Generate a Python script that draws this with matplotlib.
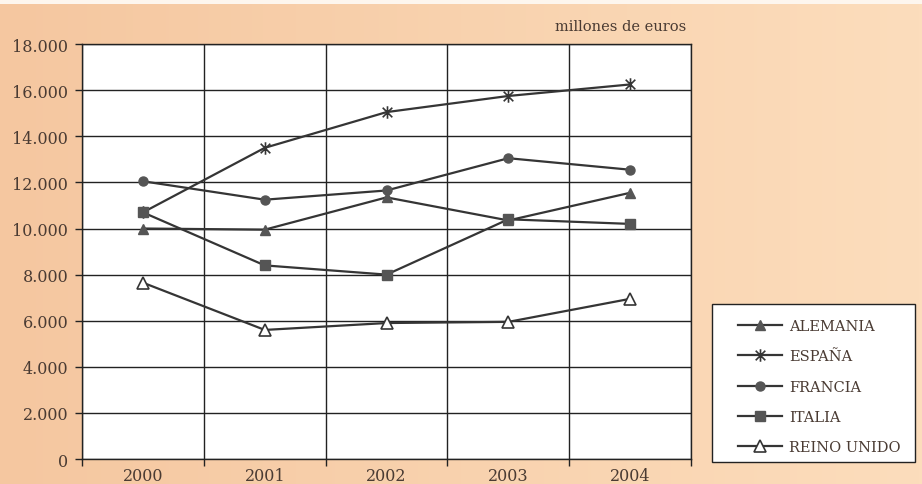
import numpy as np
import matplotlib
matplotlib.use("Agg")
import matplotlib.pyplot as plt
from matplotlib.path import Path
from matplotlib.patches import Rectangle
from matplotlib.ticker import FuncFormatter, FixedLocator

years = ["2000", "2001", "2002", "2003", "2004"]
alemania = [10000, 9950, 11350, 10350, 11550]
espana = [10700, 13500, 15050, 15750, 16250]
francia = [12050, 11250, 11650, 13050, 12550]
italia = [10700, 8400, 8000, 10400, 10200]
reino_unido = [7650, 5600, 5900, 5950, 6950]

series_names = ["ALEMANIA", "ESPAÑA", "FRANCIA", "ITALIA", "REINO UNIDO"]
yticks = np.arange(0, 18001, 2000)

# asterisk marker: X plus a vertical bar (like the old spreadsheet one)
star = Path([(-1, -1), (1, 1), (-1, 1), (1, -1), (0, -1.3), (0, 1.3)],
            [Path.MOVETO, Path.LINETO, Path.MOVETO, Path.LINETO, Path.MOVETO, Path.LINETO])

plt.rcParams['font.family'] = ['DejaVu Serif']
txt_col = "#4a3b33"
line_col = "#353535"
fill_col = "#555555"
bg = "#f9d4b0"

fig = plt.figure(figsize=(9.22, 4.85), dpi=100, facecolor=bg)

# peach page background, a bit deeper on the left
bgax = fig.add_axes([0, 0, 1, 1], zorder=-10)
left_rgb = np.array([245, 199, 160]) / 255
right_rgb = np.array([252, 221, 188]) / 255
t = np.linspace(0, 1, 256)[None, :, None]
grad = left_rgb * (1 - t) + right_rgb * t
bgax.imshow(grad, aspect="auto", extent=(0, 1, 0, 1))
bgax.axhspan(0.99, 1.0, color="#fdf6ee", lw=0)
bgax.set_xlim(0, 1)
bgax.set_ylim(0, 1)
bgax.axis("off")

ax = fig.add_axes([0.089, 0.0515, 0.6605, 0.8555])
ax.set_facecolor("white")

x = np.arange(len(years))
styles = [
    (alemania, dict(marker="^", ms=7, mfc=fill_col, mec=fill_col)),
    (espana, dict(marker=star, ms=9, mfc="none", mec=line_col, mew=1.2)),
    (francia, dict(marker="o", ms=6.5, mfc=fill_col, mec=fill_col)),
    (italia, dict(marker="s", ms=7, mfc=fill_col, mec=fill_col)),
    (reino_unido, dict(marker="^", ms=8, mfc="white", mec=line_col, mew=1.2)),
]
for name, (vals, st) in zip(series_names, styles):
    ax.plot(x, vals, color=line_col, lw=1.6, label=name, **st)

ax.set_xlim(-0.5, len(years) - 0.5)
ax.set_ylim(0, 18000)
ax.set_yticks(yticks)
ax.yaxis.set_major_formatter(FuncFormatter(lambda v, p: f"{int(v):,}".replace(",", ".")))
ax.set_xticks(x)
ax.set_xticklabels(years)
ax.xaxis.set_minor_locator(FixedLocator(np.arange(-0.5, len(years), 1.0)))
ax.tick_params(axis="x", which="major", length=0, pad=6, labelsize=11.5, colors=txt_col)
ax.tick_params(axis="x", which="minor", length=5, width=1, color="#222222")
ax.tick_params(axis="y", length=5, width=1, pad=5, labelsize=11.5, colors=txt_col)
ax.tick_params(axis="y", color="#222222")
ax.grid(True, axis="y", which="major", color="#222222", lw=1)
ax.grid(True, axis="x", which="minor", color="#222222", lw=1)
for s in ax.spines.values():
    s.set_color("#222222")
    s.set_linewidth(1)

fig.text(0.744, 0.945, "millones de euros", ha="right", va="center", fontsize=10.5, color=txt_col)

# legend box drawn by hand so the entries can sit indented inside it
fig.patches.append(Rectangle((712 / 922, 22 / 485), 203 / 922, 158 / 485,
                             transform=fig.transFigure, fc="white", ec="#222222", lw=1))
leg = fig.legend(loc="upper left", bbox_to_anchor=(738 / 922, 165 / 485),
                 borderaxespad=0, borderpad=0, frameon=False,
                 fontsize=10.5, handlelength=3.0, labelspacing=1.12,
                 handletextpad=0.5)
for tx in leg.get_texts():
    tx.set_color(txt_col)

fig.savefig("out.png", dpi=100)
